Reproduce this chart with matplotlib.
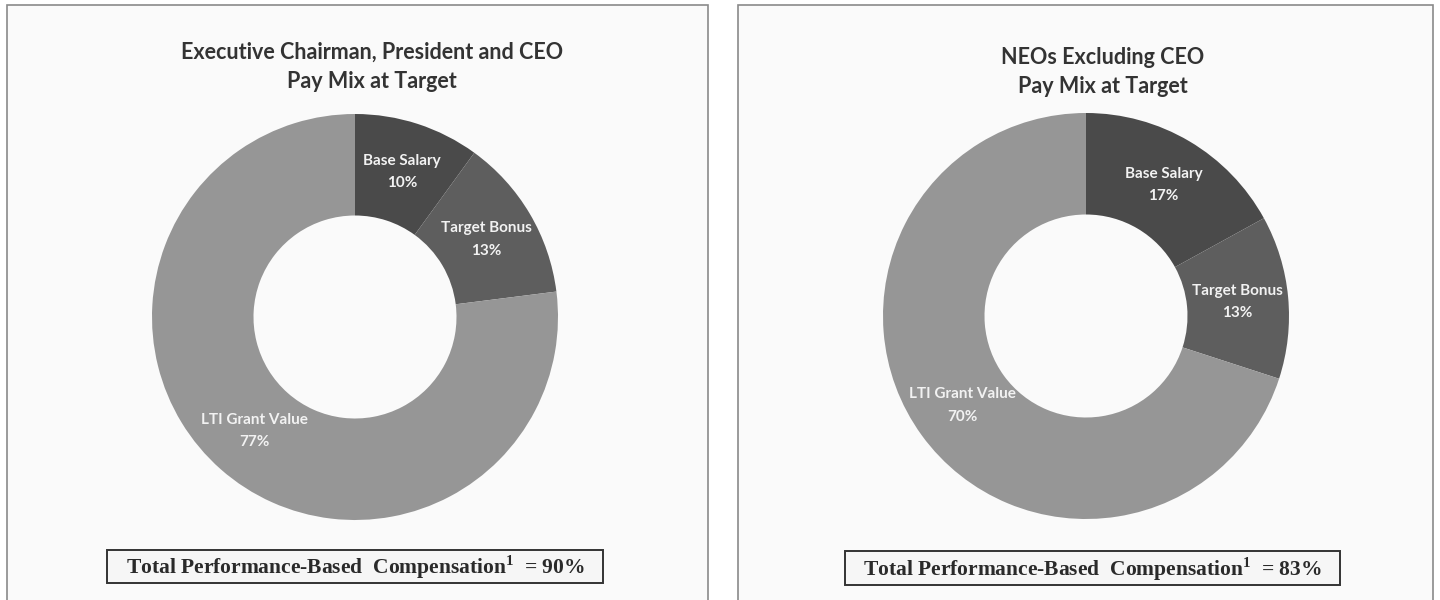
import numpy as np
import matplotlib.pyplot as plt
from matplotlib.patches import Rectangle

# pay mix at target, percent
components = ["Base Salary", "Target Bonus", "LTI Grant Value"]
ceo_mix = [10, 13, 77]
neo_mix = [17, 13, 70]
titles = ["Executive Chairman, President and CEO\nPay Mix at Target",
          "NEOs Excluding CEO\nPay Mix at Target"]
perf_based = [90, 83]

colors = ["#4a4a4a", "#5e5e5e", "#969696"]

# superscript footnote marker in the serif face
plt.rcParams["mathtext.fontset"] = "custom"
plt.rcParams["mathtext.bf"] = "Liberation Serif:bold"
plt.rcParams["mathtext.rm"] = "Liberation Serif"

W, H = 1440, 600
fig = plt.figure(figsize=(W / 100, H / 100), dpi=100)
fig.patch.set_facecolor("white")

# background layer in pixel coordinates for panels, titles and footers
bg = fig.add_axes([0, 0, 1, 1])
bg.set_xlim(0, W)
bg.set_ylim(H, 0)
bg.axis("off")

panels = [
    dict(x0=7, x1=708, cx=355, cy=317, tx=372, ty=67, box=(107, 550, 603, 583)),
    dict(x0=738, x1=1433, cx=1086, cy=316, tx=1103, ty=72, box=(845, 551, 1340, 585)),
]
R = 203

for p, title, mix, pb in zip(panels, titles, [ceo_mix, neo_mix], perf_based):
    bg.add_patch(Rectangle((p["x0"], 5), p["x1"] - p["x0"], H, facecolor="#fafafa",
                           edgecolor="#8a8a8a", lw=1.2))
    bg.text(p["tx"], p["ty"], title, ha="center", va="center", fontsize=15.5,
            fontweight="bold", family="Lato", color="#333333", linespacing=1.5)
    bx0, by0, bx1, by1 = p["box"]
    bg.add_patch(Rectangle((bx0, by0), bx1 - bx0, by1 - by0, facecolor="#f6f6f6",
                           edgecolor="#333333", lw=1.4))
    bg.text((bx0 + bx1) / 2, (by0 + by1) / 2 + 1,
            "Total Performance-Based  Compensation$^{\\mathbf{1}}$  = %d%%" % pb,
            ha="center", va="center", fontsize=15.5, fontweight="bold",
            family="Liberation Serif", color="#2a2a2a")

    ax = fig.add_axes([(p["cx"] - R) / W, (H - p["cy"] - R) / H, 2 * R / W, 2 * R / H])
    wedges, _ = ax.pie(mix, colors=colors, startangle=90, counterclock=False,
                       radius=1.0, wedgeprops=dict(width=0.5, edgecolor="none"))
    ax.set_xlim(-1, 1)
    ax.set_ylim(-1, 1)
    ax.axis("off")

    for w, name, v in zip(wedges, components, mix):
        ang = np.deg2rad((w.theta1 + w.theta2) / 2)
        x, y = 0.75 * np.cos(ang), 0.75 * np.sin(ang)
        ax.text(x, y, "%s\n%d%%" % (name, v), ha="center", va="center",
                fontsize=11, fontweight="bold", family="Lato", color="#f2f2f2",
                linespacing=1.75)

fig.savefig("out.png", dpi=100)
